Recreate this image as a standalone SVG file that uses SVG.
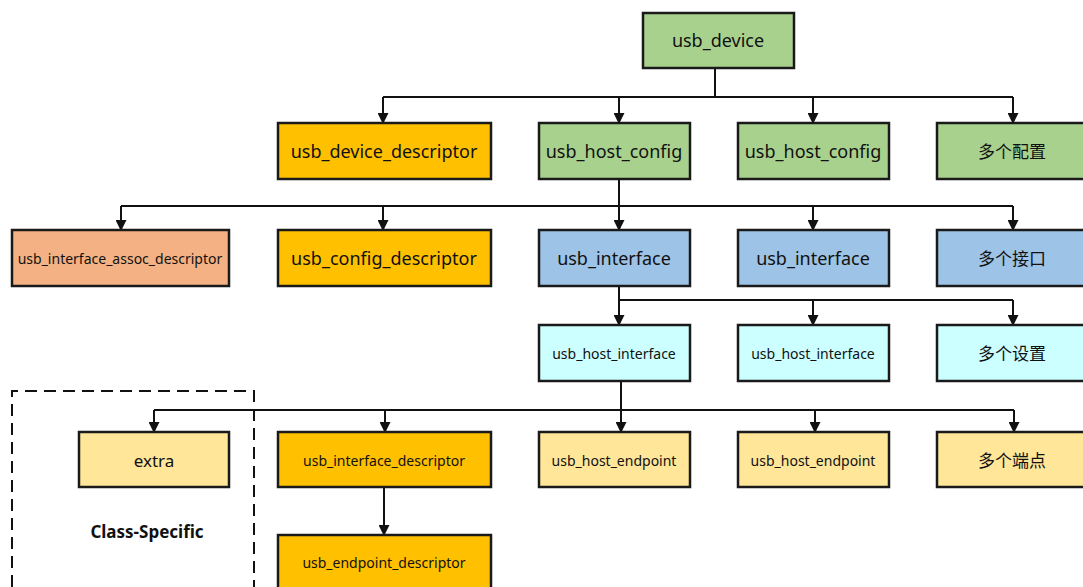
<svg xmlns="http://www.w3.org/2000/svg" width="1083" height="587" viewBox="0 0 1083 587">
<style>
.n{stroke:#1a1a1a;stroke-width:2.5}
.g{fill:#A9D18E}.o{fill:#FFC000}.s{fill:#F4B183}.b{fill:#9DC3E6}.c{fill:#CCFFFF}.y{fill:#FFE699}
text{font-family:"Noto Sans","Noto Sans CJK SC",sans-serif;fill:#111;text-anchor:middle;dominant-baseline:central}
.t18{font-size:18px}.t17{font-size:17px}.t14{font-size:14px}
.l{stroke:#111;stroke-width:2;fill:none}
</style>
<defs>
<marker id="a" viewBox="0 0 10 10" refX="9" refY="5" markerWidth="5.5" markerHeight="5.5" orient="auto"><path d="M0,0L10,5L0,10z" fill="#111"/></marker>
</defs>
<rect width="1083" height="587" fill="#fff"/>
<g id="connectors">
<path class="l" d="M715,68V97M383,97H1013"/>
<path class="l" marker-end="url(#a)" d="M383,97V123"/>
<path class="l" marker-end="url(#a)" d="M619,97V123"/>
<path class="l" marker-end="url(#a)" d="M813,97V123"/>
<path class="l" marker-end="url(#a)" d="M1013,97V123"/>
<path class="l" d="M121,206H1013"/>
<path class="l" marker-end="url(#a)" d="M619,179V230"/>
<path class="l" marker-end="url(#a)" d="M121,206V230"/>
<path class="l" marker-end="url(#a)" d="M383,206V230"/>
<path class="l" marker-end="url(#a)" d="M813,206V230"/>
<path class="l" marker-end="url(#a)" d="M1013,206V230"/>
<path class="l" d="M619,300H1013"/>
<path class="l" marker-end="url(#a)" d="M619,286V325"/>
<path class="l" marker-end="url(#a)" d="M813,300V325"/>
<path class="l" marker-end="url(#a)" d="M1013,300V325"/>
<path class="l" d="M154,410H1014"/>
<path class="l" marker-end="url(#a)" d="M621,381V432"/>
<path class="l" marker-end="url(#a)" d="M154,410V432"/>
<path class="l" marker-end="url(#a)" d="M385,410V432"/>
<path class="l" marker-end="url(#a)" d="M815,410V432"/>
<path class="l" marker-end="url(#a)" d="M1014,410V432"/>
<path class="l" marker-end="url(#a)" d="M384,487V535"/>
</g>
<g id="class-specific">
<path d="M12,587V391H254V587" fill="none" stroke="#111" stroke-width="2" stroke-dasharray="12,7"/>
<text x="147" y="531" style="font-size:17px;font-weight:bold">Class-Specific</text>
</g>
<g id="usb_device"><rect class="n g" x="643" y="13" width="151" height="55"/><text class="t18" x="718" y="40">usb_device</text></g>
<g id="usb_device_descriptor"><rect class="n o" x="278" y="123" width="213" height="56"/><text class="t18" x="384" y="151">usb_device_descriptor</text></g>
<g id="usb_host_config_1"><rect class="n g" x="539" y="123" width="151" height="56"/><text class="t18" x="614" y="151">usb_host_config</text></g>
<g id="usb_host_config_2"><rect class="n g" x="738" y="123" width="151" height="56"/><text class="t18" x="813" y="151">usb_host_config</text></g>
<g id="configs"><rect class="n g" x="937" y="123" width="150" height="56"/><text class="t17" x="1012" y="151">多个配置</text></g>
<g id="usb_interface_assoc_descriptor"><rect class="n s" x="12" y="230" width="217" height="56"/><text class="t14" x="120" y="258">usb_interface_assoc_descriptor</text></g>
<g id="usb_config_descriptor"><rect class="n o" x="278" y="230" width="213" height="56"/><text class="t18" x="384" y="258">usb_config_descriptor</text></g>
<g id="usb_interface_1"><rect class="n b" x="539" y="230" width="151" height="56"/><text class="t18" x="614" y="258">usb_interface</text></g>
<g id="usb_interface_2"><rect class="n b" x="738" y="230" width="151" height="56"/><text class="t18" x="813" y="258">usb_interface</text></g>
<g id="interfaces"><rect class="n b" x="937" y="230" width="150" height="56"/><text class="t17" x="1012" y="258">多个接口</text></g>
<g id="usb_host_interface_1"><rect class="n c" x="539" y="325" width="151" height="56"/><text class="t14" x="614" y="353">usb_host_interface</text></g>
<g id="usb_host_interface_2"><rect class="n c" x="738" y="325" width="151" height="56"/><text class="t14" x="813" y="353">usb_host_interface</text></g>
<g id="settings"><rect class="n c" x="937" y="325" width="150" height="56"/><text class="t17" x="1012" y="353">多个设置</text></g>
<g id="extra"><rect class="n y" x="79" y="432" width="150" height="55"/><text class="t17" x="154" y="460">extra</text></g>
<g id="usb_interface_descriptor"><rect class="n o" x="278" y="432" width="213" height="55"/><text class="t14" x="384" y="460">usb_interface_descriptor</text></g>
<g id="usb_host_endpoint_1"><rect class="n y" x="539" y="432" width="151" height="55"/><text class="t14" x="614" y="460">usb_host_endpoint</text></g>
<g id="usb_host_endpoint_2"><rect class="n y" x="738" y="432" width="151" height="55"/><text class="t14" x="813" y="460">usb_host_endpoint</text></g>
<g id="endpoints"><rect class="n y" x="937" y="432" width="150" height="55"/><text class="t17" x="1012" y="460">多个端点</text></g>
<g id="usb_endpoint_descriptor"><rect class="n o" x="278" y="535" width="213" height="56"/><text class="t14" x="384" y="562">usb_endpoint_descriptor</text></g>
</svg>
